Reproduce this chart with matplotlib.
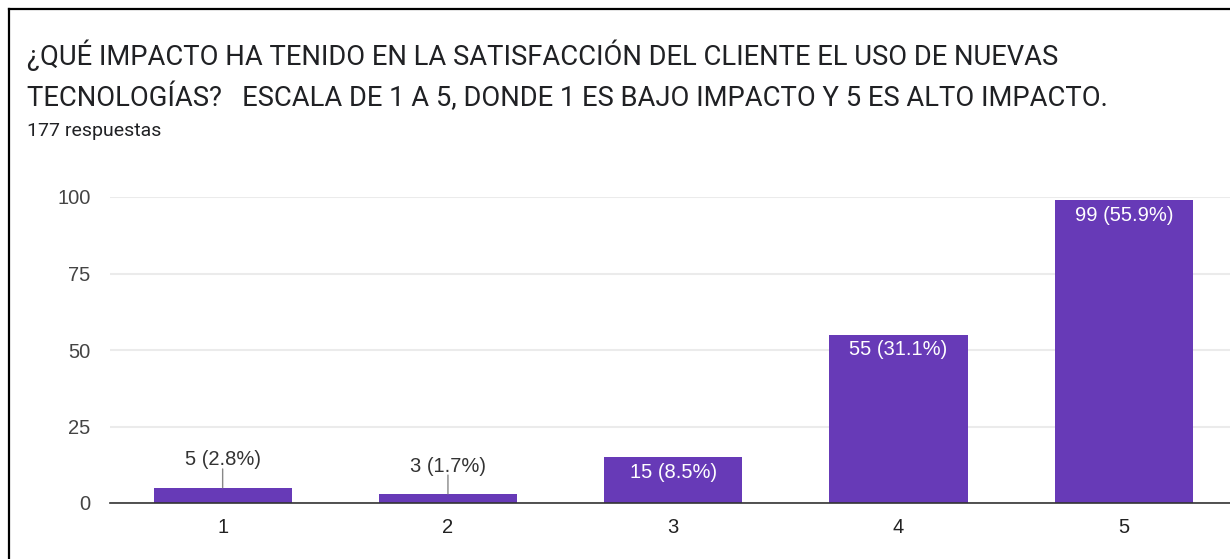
"""Bar chart of survey answers: impact of new technologies on customer satisfaction (1-5 scale)."""

import matplotlib

matplotlib.use("Agg")
import matplotlib.pyplot as plt
from matplotlib.lines import Line2D

# Data
categories = ["1", "2", "3", "4", "5"]
counts = [5, 3, 15, 55, 99]
percents = ["2.8%", "1.7%", "8.5%", "31.1%", "55.9%"]
y_ticks = [0, 25, 50, 75, 100]

title = ("¿QUÉ IMPACTO HA TENIDO EN LA SATISFACCIÓN DEL CLIENTE EL USO DE NUEVAS\n"
         "TECNOLOGÍAS?   ESCALA DE 1 A 5, DONDE 1 ES BAJO IMPACTO Y 5 ES ALTO IMPACTO.")
subtitle = "177 respuestas"

BAR = "#673ab7"
W, H = 1230, 559

fig = plt.figure(figsize=(W / 100, H / 100), dpi=100)
fig.patch.set_facecolor("white")

# axes placed in pixel coords: plot spans x 110..1236, y 197..503 (from top)
left, right, top, bottom = 110, 1236.5, 197, 503
ax = fig.add_axes([left / W, (H - bottom) / H, (right - left) / W, (bottom - top) / H])

x = list(range(len(categories)))
ax.bar(x, counts, width=0.613, color=BAR, zorder=3)
ax.set_xlim(-0.5, len(categories) - 0.5)
ax.set_ylim(0, 100)

ax.set_yticks(y_ticks)
ax.set_yticklabels([str(t) for t in y_ticks])
ax.set_xticks(x)
ax.set_xticklabels(categories)
ax.tick_params(axis="both", length=0, labelsize=14.5, colors="#444444",
               labelfontfamily="Liberation Sans")
ax.tick_params(axis="y", pad=14)
ax.tick_params(axis="x", pad=11, colors="#222222")
ax.grid(axis="y", color="#ebebeb", linewidth=1.5, zorder=0)
for side in ("top", "right", "left"):
    ax.spines[side].set_visible(False)
ax.spines["bottom"].set_color("#333333")
ax.spines["bottom"].set_linewidth(1.2)
ax.spines["bottom"].set_zorder(4)

for xi, c, p in zip(x, counts, percents):
    label = f"{c} ({p})"
    if c < 10:
        # small bars: label above with a grey leader line
        ax.annotate(label, xy=(xi, c), xytext=(0, 20), textcoords="offset points",
                    ha="center", va="center", fontsize=14.5, color="#333333",
                    family="Liberation Sans",
                    arrowprops=dict(arrowstyle="-", color="#888888", lw=1,
                                    patchA=None, shrinkA=6.5, shrinkB=0))
    else:
        ax.annotate(label, xy=(xi, c), xytext=(0, -11), textcoords="offset points",
                    ha="center", va="center", fontsize=14.5, color="white",
                    family="Liberation Sans", zorder=5)

fig.text(27 / W, 1 - 76 / H, title, ha="left", va="center", fontsize=19.7,
         family="Roboto", color="#202124", linespacing=1.5)
fig.text(27 / W, 1 - 131 / H, subtitle, ha="left", va="center", fontsize=14,
         family="Roboto", color="#202124")

# black frame at top and left, as in the screenshot
fig.add_artist(Line2D([8.5 / W, 8.5 / W], [0, 1 - 9 / H], color="black", lw=1.6,
                      transform=fig.transFigure))
fig.add_artist(Line2D([8.5 / W, 1], [1 - 9 / H, 1 - 9 / H], color="black", lw=1.6,
                      transform=fig.transFigure))

fig.savefig("out.png", dpi=100)
